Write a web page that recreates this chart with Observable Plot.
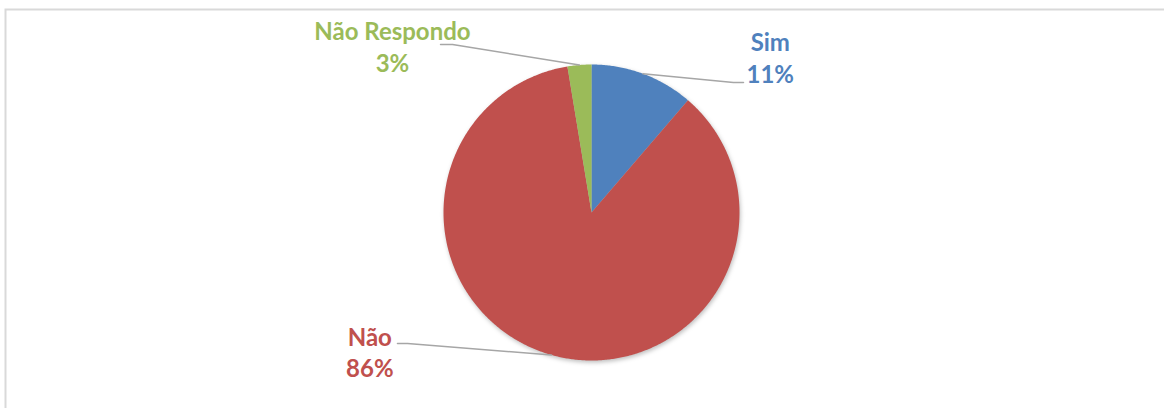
<!DOCTYPE html>
<html>
<head>
<meta charset="utf-8">
<script src="https://cdn.jsdelivr.net/npm/d3@7"></script>
<script src="https://cdn.jsdelivr.net/npm/@observablehq/plot@0.6"></script>
<style>
  html, body { margin: 0; padding: 0; background: #fff; }
  #chart svg { display: block; }
</style>
</head>
<body>
<div id="chart"></div>
<script>
// ---- data ----
const categories = ["Sim", "Não", "Não Respondo"];
const values = [11.3, 86.1, 2.6];
const pctLabels = ["11%", "86%", "3%"];
const colors = ["#4F81BD", "#C0504D", "#9BBB59"];

// ---- layout (radius units, relative to pie centre, y up) ----
const W = 1164, H = 408, CX = 591, CY = 212, R = 148;
const layout = {
  "Sim":          {label: [1.208, 1.05],  elbow: [0.959, 0.878],  end: [1.027, 0.878]},
  "Não":          {label: [-1.498, -0.939], elbow: [-1.243, -0.885], end: [-1.311, -0.885]},
  "Não Respondo": {label: [-1.345, 1.125],  elbow: [-0.939, 1.135],  end: [-1.020, 1.135]}
};

const pie = d3.pie().sort(null).value((d) => d.value)(
  categories.map((c, i) => ({category: c, value: values[i], pct: pctLabels[i], color: colors[i]}))
);

// slice polygons
const slicePts = [];
for (const s of pie) {
  const c = s.data.category;
  slicePts.push({category: c, x: 0, y: 0});
  const n = Math.max(2, Math.ceil((s.endAngle - s.startAngle) / (Math.PI / 360)));
  for (let k = 0; k <= n; k++) {
    const a = s.startAngle + (s.endAngle - s.startAngle) * k / n;
    slicePts.push({category: c, x: Math.sin(a), y: Math.cos(a)});
  }
  slicePts.push({category: c, x: 0, y: 0});
}

// leader lines
const leaderPts = [];
for (const s of pie) {
  const c = s.data.category;
  const m = (s.startAngle + s.endAngle) / 2;
  leaderPts.push({category: c, x: Math.sin(m), y: Math.cos(m)});
  leaderPts.push({category: c, x: layout[c].elbow[0], y: layout[c].elbow[1]});
  leaderPts.push({category: c, x: layout[c].end[0], y: layout[c].end[1]});
}

const labelData = pie.map((s) => ({
  category: s.data.category,
  text: s.data.category + "\n" + s.data.pct,
  x: layout[s.data.category].label[0],
  y: layout[s.data.category].label[1]
}));

const chart = Plot.plot({
  width: W,
  height: H,
  margin: 0,
  x: {domain: [-CX / R, (W - CX) / R], axis: null},
  y: {domain: [-(H - CY) / R, CY / R], axis: null},
  color: {domain: categories, range: colors},
  style: {background: "#fff", overflow: "hidden"},
  marks: [
    Plot.frame({stroke: "#d9d9d9", strokeWidth: 2, insetLeft: 5, insetTop: 9, insetRight: -10, insetBottom: -10}),
    Plot.line(slicePts, {x: "x", y: "y", z: "category", fill: "category", stroke: "none", curve: "linear"}),
    Plot.line(leaderPts, {x: "x", y: "y", z: "category", stroke: "#a6a6a6", strokeWidth: 1.5}),
    Plot.text(labelData, {
      x: "x", y: "y", text: "text", fill: "category",
      fontFamily: "Lato", fontWeight: "bold", fontSize: 24, lineHeight: 1.3,
      letterSpacing: 0.3,
      textAnchor: "middle", lineAnchor: "middle"
    })
  ]
});

document.getElementById("chart").appendChild(chart);
// subtle shadow on the pie like the original
const groups = chart.querySelectorAll("g[aria-label='line']");
if (groups.length) groups[0].style.filter = "drop-shadow(1px 2px 2px rgba(0,0,0,0.25))";
</script>
</body>
</html>
